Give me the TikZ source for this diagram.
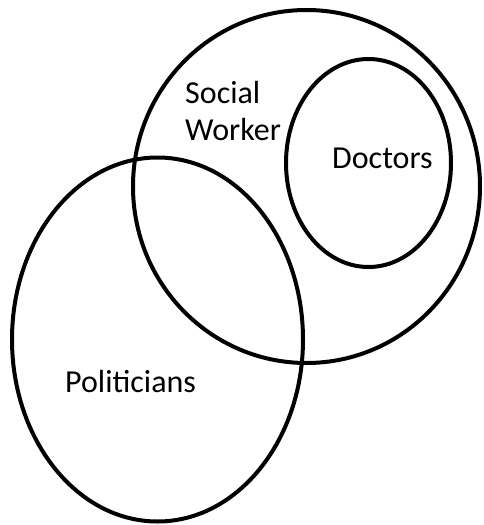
\documentclass[tikz,border=0pt]{standalone}
\usepackage{fontspec}
\setmainfont{Carlito}

\begin{document}
\begin{tikzpicture}[x=1pt, y=-1pt,
    setline/.style={draw=black, line width=4pt},
    setlabel/.style={font=\fontsize{32}{37}\selectfont, inner sep=0pt, align=left}]
  \useasboundingbox (0,0) rectangle (484,525);

  % Draw the sets
  \draw[setline] (306.5,186.5) ellipse [x radius=173.5pt, y radius=176.5pt]; % Social Worker
  \draw[setline] (368.5,163) ellipse [x radius=82.5pt, y radius=104pt]; % Doctors
  \draw[setline] (157.5,339.5) ellipse [x radius=145.5pt, y radius=182pt]; % Politicians

  % Add labels
  \node[setlabel, anchor=base west] (social) at (185,140) {Social\\Worker};
  \node[setlabel, anchor=base west] (doctors) at (332,168) {Doctors};
  \node[setlabel, anchor=base west] (politicians) at (65,392) {Politicians};
\end{tikzpicture}
\end{document}
